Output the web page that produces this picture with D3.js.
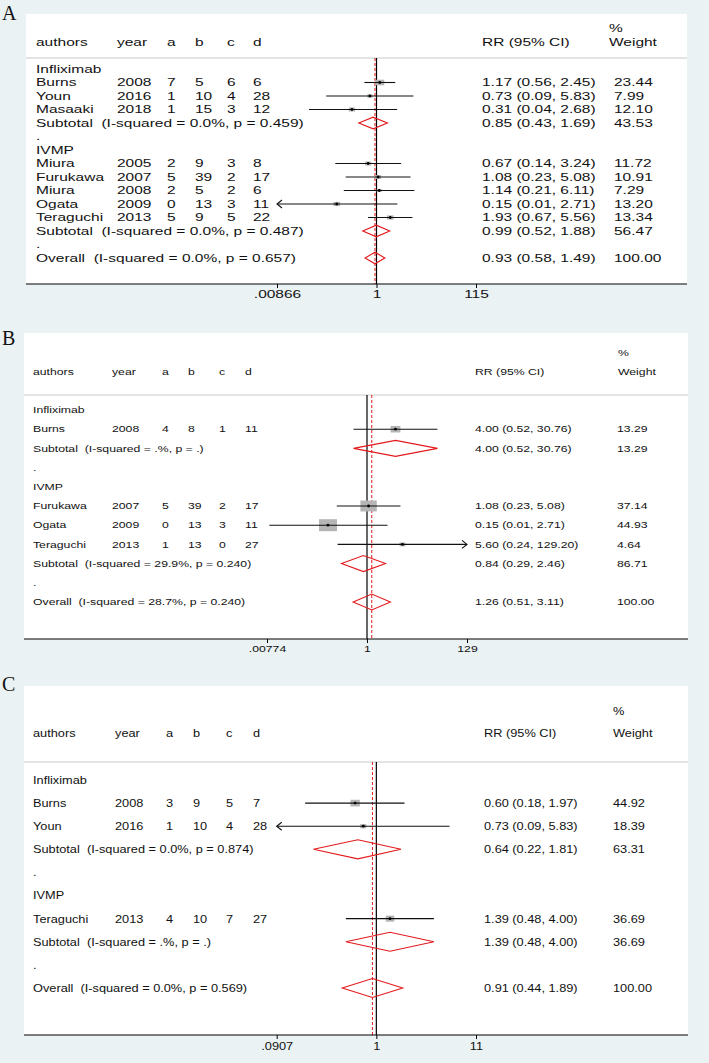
<!DOCTYPE html>
<html><head><meta charset="utf-8">
<script src="https://cdn.jsdelivr.net/npm/d3@7"></script>
<style>
body{margin:0;background:#eaf2f3}
svg{display:block}
text{font-family:"Liberation Sans",Arial,sans-serif;white-space:pre;fill:#111}
</style>
</head><body><svg id="chart" width="709" height="1063"></svg>
<script>
// ---------------- Panel A data ----------------
const A_labels = ["Infliximab","Burns","Youn","Masaaki","Subtotal  (I-squared = 0.0%, p = 0.459)",".","IVMP","Miura","Furukawa","Miura","Ogata","Teraguchi","Subtotal  (I-squared = 0.0%, p = 0.487)",".","Overall  (I-squared = 0.0%, p = 0.657)"];
const A_types  = ["g","s","s","s","sub","dot","g","s","s","s","s","s","sub","dot","ov"];
const A_years  = [null,2008,2016,2018,null,null,null,2005,2007,2008,2009,2013,null,null,null];
const A_a      = [null,7,1,1,null,null,null,2,5,2,0,5,null,null,null];
const A_b      = [null,5,10,15,null,null,null,9,39,5,13,9,null,null,null];
const A_c      = [null,6,4,3,null,null,null,3,2,2,3,5,null,null,null];
const A_d      = [null,6,28,12,null,null,null,8,17,6,11,22,null,null,null];
const A_est    = [null,1.17,0.73,0.31,0.85,null,null,0.67,1.08,1.14,0.15,1.93,0.99,null,0.93];
const A_lo     = [null,0.56,0.0907,0.04,0.43,null,null,0.14,0.23,0.21,0.00866,0.67,0.52,null,0.58];
const A_hi     = [null,2.45,5.83,2.68,1.69,null,null,3.24,5.08,6.11,2.71,5.56,1.88,null,1.49];
const A_wt     = [null,23.44,7.99,12.10,43.53,null,null,11.72,10.91,7.29,13.20,13.34,56.47,null,100.00];
const A_domain = [0.00866, 115.5];
const A_tickValues = [0.00866, 1, 115.5];
const A_tickLabels = [".00866","1","115"];

// ---------------- Panel B data ----------------
const B_labels = ["Infliximab","Burns","Subtotal  (I-squared = .%, p = .)",".","IVMP","Furukawa","Ogata","Teraguchi","Subtotal  (I-squared = 29.9%, p = 0.240)",".","Overall  (I-squared = 28.7%, p = 0.240)"];
const B_types  = ["g","s","sub","dot","g","s","s","s","sub","dot","ov"];
const B_years  = [null,2008,null,null,null,2007,2009,2013,null,null,null];
const B_a      = [null,4,null,null,null,5,0,1,null,null,null];
const B_b      = [null,8,null,null,null,39,13,13,null,null,null];
const B_c      = [null,1,null,null,null,2,3,0,null,null,null];
const B_d      = [null,11,null,null,null,17,11,27,null,null,null];
const B_est    = [null,4.00,4.00,null,null,1.08,0.15,5.60,0.84,null,1.26];
const B_lo     = [null,0.52,0.52,null,null,0.23,0.00866,0.24,0.29,null,0.51];
const B_hi     = [null,30.76,30.76,null,null,5.08,2.71,129.20,2.46,null,3.11];
const B_wt     = [null,13.29,13.29,null,null,37.14,44.93,4.64,86.71,null,100.00];
const B_domain = [0.00774, 129.2];
const B_tickValues = [0.00774, 1, 129.2];
const B_tickLabels = [".00774","1","129"];

// ---------------- Panel C data ----------------
const C_labels = ["Infliximab","Burns","Youn","Subtotal  (I-squared = 0.0%, p = 0.874)",".","IVMP","Teraguchi","Subtotal  (I-squared = .%, p = .)",".","Overall  (I-squared = 0.0%, p = 0.569)"];
const C_types  = ["g","s","s","sub","dot","g","s","sub","dot","ov"];
const C_years  = [null,2008,2016,null,null,null,2013,null,null,null];
const C_a      = [null,3,1,null,null,null,4,null,null,null];
const C_b      = [null,9,10,null,null,null,10,null,null,null];
const C_c      = [null,5,4,null,null,null,7,null,null,null];
const C_d      = [null,7,28,null,null,null,27,null,null,null];
const C_est    = [null,0.60,0.73,0.64,null,null,1.39,1.39,null,0.91];
const C_lo     = [null,0.18,0.0907,0.22,null,null,0.48,0.48,null,0.44];
const C_hi     = [null,1.97,5.83,1.81,null,null,4.00,4.00,null,1.89];
const C_wt     = [null,44.92,18.39,63.31,null,null,36.69,36.69,null,100.00];
const C_domain = [0.0907, 11.03];
const C_tickValues = [0.0907, 1, 11.03];
const C_tickLabels = [".0907","1","11"];

const headers = {authors:"authors", year:"year", a:"a", b:"b", c:"c", d:"d", rr:"RR (95% CI)", pct:"%", wt:"Weight"};

const svg = d3.select("#chart");
const RED = "#e3191c", BOX = "#b5b5b5";

function drawPanel(D, L) {
  const g = svg.append("g");
  g.append("rect").attr("x", L.px0).attr("y", L.py0)
    .attr("width", L.px1 - L.px0).attr("height", L.axisY - L.py0).attr("fill", "#fff");
  g.append("text").attr("x", L.lx).attr("y", L.ly).text(L.letter)
    .style("font-family", "'Liberation Serif','Times New Roman',serif").style("font-size", "20px");

  const x = d3.scaleLog().domain(D.domain).range([L.xMin, L.xMax]);
  const n = D.labels.length;
  const y = d3.scaleLinear().domain([0, n - 1]).range([L.y0, L.y1]);

  const txt = (px, py, s) => g.append("text")
    .attr("transform", `translate(${px},${py}) scale(${L.sx},1)`)
    .attr("dy", "0.35em").style("font-size", L.fs + "px").text(s);

  // headers
  const C = L.cols;
  txt(C.auth, L.headY, headers.authors);
  txt(C.year, L.headY, headers.year);
  txt(C.a, L.headY, headers.a); txt(C.b, L.headY, headers.b);
  txt(C.c, L.headY, headers.c); txt(C.d, L.headY, headers.d);
  txt(C.rr, L.headY, headers.rr);
  txt(C.wtHead, L.pctY, headers.pct);
  txt(C.wtHead, L.headY, headers.wt);

  g.append("line").attr("x1", L.px0).attr("x2", L.px1).attr("y1", L.sepY).attr("y2", L.sepY)
    .attr("stroke", "#c9c9c9").attr("stroke-width", 1);

  // reference lines
  const ovIdx = D.types.indexOf("ov");
  g.append("line").attr("x1", x(1)).attr("x2", x(1)).attr("y1", L.sepY).attr("y2", L.axisY)
    .attr("stroke", "#000").attr("stroke-width", 1.2);
  g.append("line").attr("x1", x(D.est[ovIdx])).attr("x2", x(D.est[ovIdx]))
    .attr("y1", L.sepY).attr("y2", L.axisY)
    .attr("stroke", RED).attr("stroke-width", 1).attr("stroke-dasharray", "3,2");

  const [dmin, dmax] = D.domain;
  const fmt = v => v.toFixed(2);

  D.labels.forEach((lab, i) => {
    const t = D.types[i], cy = y(i);
    txt(C.auth, cy, lab);
    if (t === "s") {
      txt(C.year, cy, String(D.years[i]));
      txt(C.a, cy, String(D.a[i])); txt(C.b, cy, String(D.b[i]));
      txt(C.c, cy, String(D.c[i])); txt(C.d, cy, String(D.d[i]));
      const lo = D.lo[i], hi = D.hi[i];
      const x0 = x(Math.max(lo, dmin)), x1 = x(Math.min(hi, dmax));
      const h = L.boxK * Math.sqrt(D.wt[i]);
      const w = h * L.boxSx;
      g.append("rect").attr("x", x(D.est[i]) - w / 2).attr("y", cy - h / 2)
        .attr("width", w).attr("height", h).attr("fill", BOX);
      g.append("line").attr("x1", x0).attr("x2", x1).attr("y1", cy).attr("y2", cy)
        .attr("stroke", "#111").attr("stroke-width", 1.1);
      if (lo <= dmin * 1.001) {
        g.append("path").attr("d", `M${x0 + 5},${cy - 4}L${x0},${cy}L${x0 + 5},${cy + 4}`)
          .attr("fill", "none").attr("stroke", "#111").attr("stroke-width", 1.1);
      }
      if (hi >= dmax * 0.999) {
        g.append("path").attr("d", `M${x1 - 5},${cy - 4}L${x1},${cy}L${x1 - 5},${cy + 4}`)
          .attr("fill", "none").attr("stroke", "#111").attr("stroke-width", 1.1);
      }
      g.append("circle").attr("cx", x(D.est[i])).attr("cy", cy).attr("r", 1.4).attr("fill", "#000");
      txt(C.rr, cy, `${fmt(D.est[i])} (${fmt(lo)}, ${fmt(hi)})`);
      txt(C.wt, cy, fmt(D.wt[i]));
    } else if (t === "sub" || t === "ov") {
      const hh = L.diaH;
      const xl = x(D.lo[i]), xr = x(D.hi[i]), xe = x(D.est[i]);
      g.append("path").attr("d", `M${xl},${cy}L${xe},${cy - hh}L${xr},${cy}L${xe},${cy + hh}Z`)
        .attr("fill", "none").attr("stroke", RED).attr("stroke-width", 1.1);
      txt(C.rr, cy, `${fmt(D.est[i])} (${fmt(D.lo[i])}, ${fmt(D.hi[i])})`);
      txt(C.wt, cy, fmt(D.wt[i]));
    }
  });

  // axis
  g.append("line").attr("x1", L.px0).attr("x2", L.px1).attr("y1", L.axisY).attr("y2", L.axisY)
    .attr("stroke", "#000").attr("stroke-width", 1);
  const ax = g.append("g").attr("transform", `translate(0,${L.axisY})`)
    .call(d3.axisBottom(x).tickValues(D.tickValues)
      .tickFormat((v, k) => D.tickLabels[k]).tickSize(4).tickPadding(3));
  ax.select(".domain").remove();
  ax.selectAll("line").attr("stroke", "#000");
  ax.selectAll("text").attr("transform", `scale(${L.sx},1)`)
    .style("font-size", L.fs + "px").style("font-family", "'Liberation Sans',Arial,sans-serif").attr("fill", "#111");
}

drawPanel({labels:A_labels, types:A_types, years:A_years, a:A_a, b:A_b, c:A_c, d:A_d,
  est:A_est, lo:A_lo, hi:A_hi, wt:A_wt, domain:A_domain, tickValues:A_tickValues, tickLabels:A_tickLabels},
  {letter:"A", lx:2, ly:20, px0:26, px1:687, py0:14, axisY:284, xMin:277, xMax:476,
   y0:69, y1:258, pctY:28, headY:42, sepY:58, fs:10, sx:1.55, diaH:5.8, boxK:1.15, boxSx:1.6,
   cols:{auth:36, year:117, a:167, b:195, c:227, d:253, rr:482, wt:614, wtHead:609}});

drawPanel({labels:B_labels, types:B_types, years:B_years, a:B_a, b:B_b, c:B_c, d:B_d,
  est:B_est, lo:B_lo, hi:B_hi, wt:B_wt, domain:B_domain, tickValues:B_tickValues, tickLabels:B_tickLabels},
  {letter:"B", lx:2, ly:345, px0:24, px1:688, py0:333, axisY:639, xMin:267, xMax:467,
   y0:410, y1:602, pctY:353, headY:372, sepY:395, fs:9, sx:1.36, diaH:8, boxK:1.79, boxSx:1.5,
   cols:{auth:33, year:112, a:162, b:188, c:219, d:245, rr:475, wt:617, wtHead:618}});

drawPanel({labels:C_labels, types:C_types, years:C_years, a:C_a, b:C_b, c:C_c, d:C_d,
  est:C_est, lo:C_lo, hi:C_hi, wt:C_wt, domain:C_domain, tickValues:C_tickValues, tickLabels:C_tickLabels},
  {letter:"C", lx:2, ly:691, px0:24, px1:688, py0:686, axisY:1035, xMin:276.7, xMax:476,
   y0:780, y1:988, pctY:711, headY:733, sepY:762, fs:11, sx:1.16, diaH:9.5, boxK:1.0, boxSx:1.4,
   cols:{auth:33, year:115, a:166, b:193, c:226, d:253, rr:484, wt:613, wtHead:613}});
</script>
</body></html>
